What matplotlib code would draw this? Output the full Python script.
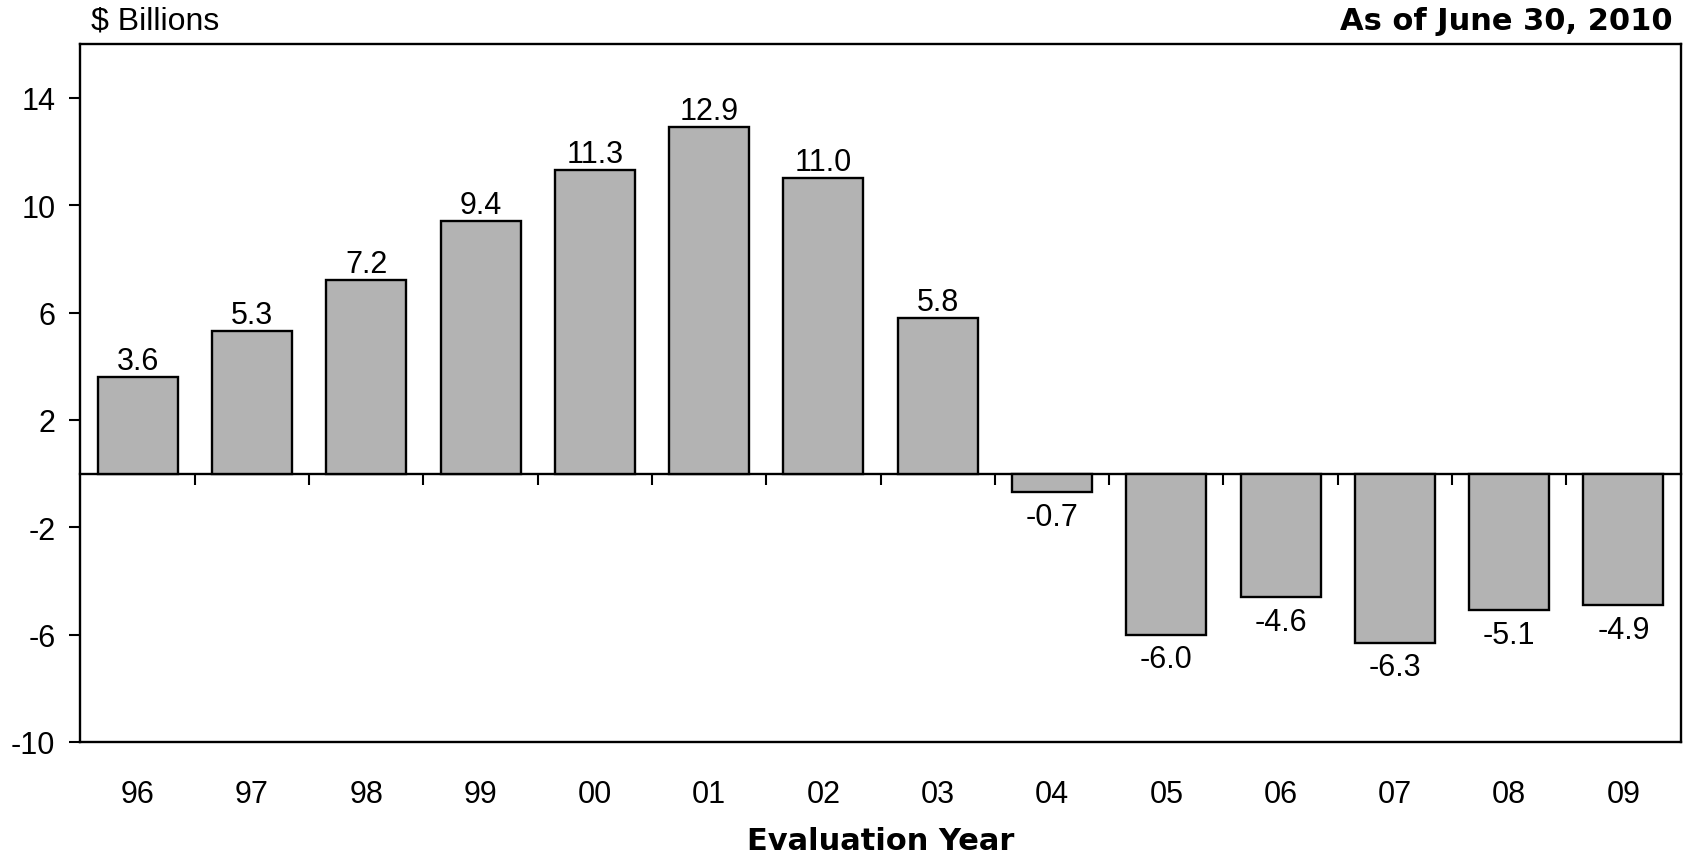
import matplotlib.pyplot as plt

years = ['96', '97', '98', '99', '00', '01', '02', '03', '04', '05', '06', '07', '08', '09']
values = [3.6, 5.3, 7.2, 9.4, 11.3, 12.9, 11.0, 5.8, -0.7, -6.0, -4.6, -6.3, -5.1, -4.9]
yticks = [-10, -6, -2, 2, 6, 10, 14]

plt.rcParams['font.family'] = ['Liberation Sans', 'DejaVu Sans']
plt.rcParams['axes.unicode_minus'] = False

fig = plt.figure(figsize=(16.84, 8.54), dpi=100)
ax = fig.add_axes([0.0478, 0.13, 0.9502, 0.817])

x = list(range(len(years)))
ax.bar(x, values, width=0.7, color='#b3b3b3', edgecolor='black', linewidth=1.7, zorder=2)

for xi, v in zip(x, values):
    if v >= 0:
        ax.annotate(f'{v:.1f}', (xi, v), xytext=(0, 1), textcoords='offset points',
                    ha='center', va='bottom', fontsize=22)
    else:
        ax.annotate(f'{v:.1f}', (xi, v), xytext=(0, -7), textcoords='offset points',
                    ha='center', va='top', fontsize=22)

ax.set_xlim(-0.5, len(years) - 0.5)
ax.set_ylim(-10, 16)
ax.set_yticks(yticks)
ax.tick_params(axis='y', direction='out', length=8, width=1.5, pad=10, labelsize=22)
ax.set_xticks(x)
ax.set_xticklabels(years)
ax.tick_params(axis='x', length=0, pad=27, labelsize=22)
for s in ax.spines.values():
    s.set_linewidth(1.7)

# zero line with category separators
zero = ax.secondary_xaxis(10 / 26)
zero.spines['bottom'].set_linewidth(1.7)
zero.set_xticks([i + 0.5 for i in x[:-1]])
zero.tick_params(axis='x', direction='out', length=8, width=1.5, labelbottom=False)

ax.set_xlabel('Evaluation Year', fontsize=22, fontweight='bold', family='DejaVu Sans', labelpad=12)
fig.text(0.054, 0.975, '$ Billions', fontsize=23, ha='left', va='center')
fig.text(0.993, 0.975, 'As of June 30, 2010', fontsize=22, fontweight='bold',
         family='DejaVu Sans', ha='right', va='center')

fig.savefig('out.png', dpi=100)
